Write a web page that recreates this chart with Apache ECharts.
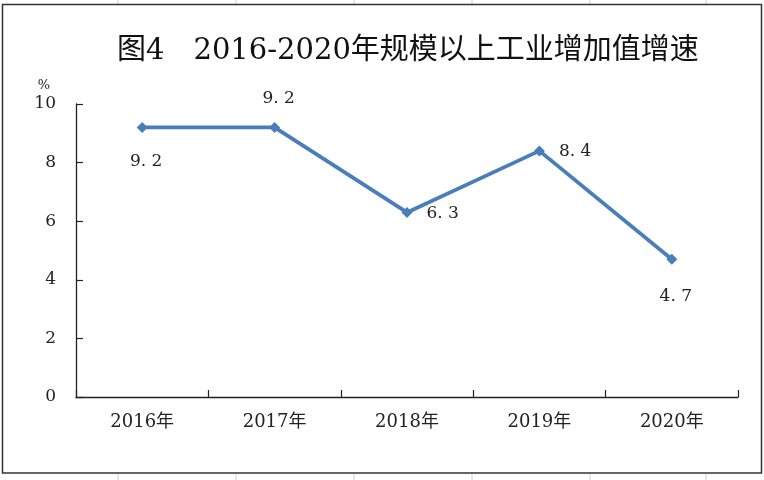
<!DOCTYPE html>
<html>
<head>
<meta charset="utf-8">
<script src="https://cdn.jsdelivr.net/npm/echarts@6/dist/echarts.min.js"></script>
<style>
html, body { margin: 0; padding: 0; background: #fff; }
#main { width: 764px; height: 480px; }
</style>
</head>
<body>
<div id="main"></div>
<script>
// 数据
var years = ['2016年', '2017年', '2018年', '2019年', '2020年'];
var growth = [9.2, 9.2, 6.3, 8.4, 4.7];
var labelPos = ['bottom', 'top', 'right', 'right', 'bottom'];
var yTicks = [0, 2, 4, 6, 8, 10];

var serif = '"DejaVu Serif", "Noto Sans CJK SC", serif';

var myChart = echarts.init(document.getElementById('main'));

// 表格背景的网格线和图表边框
var cellLines = [];
[118, 236, 354, 472, 590, 706].forEach(function (x) {
    cellLines.push({ type: 'line', shape: { x1: x, y1: 0, x2: x, y2: 4 }, style: { stroke: '#d0d0d0', lineWidth: 1 }, silent: true });
    cellLines.push({ type: 'line', shape: { x1: x, y1: 474, x2: x, y2: 480 }, style: { stroke: '#d0d0d0', lineWidth: 1 }, silent: true });
});
cellLines.push({
    type: 'rect',
    shape: { x: 2.5, y: 4.5, width: 759, height: 468.5 },
    style: { fill: 'none', stroke: '#333', lineWidth: 1.5 },
    silent: true
});

// 标签与点的距离
function labelDistance(pos, i) {
    if (pos === 'right') return 14;
    if (pos === 'top') return 15;
    return i === 4 ? 23 : 20;
}

var option = {
    backgroundColor: '#fff',
    title: {
        text: '图4　2016-2020年规模以上工业增加值增速',
        left: 112,
        top: 32,
        textStyle: { fontFamily: serif, fontSize: 29, fontWeight: 'normal', color: '#111' }
    },
    graphic: cellLines,
    grid: { left: 76, right: 26, top: 104, bottom: 83 },
    xAxis: {
        type: 'category',
        data: years,
        boundaryGap: true,
        axisLine: { lineStyle: { color: '#222', width: 1.3 } },
        axisTick: { show: true, inside: true, length: 7, lineStyle: { color: '#222', width: 1.2 } },
        axisLabel: { margin: 16, fontFamily: serif, fontSize: 18, color: '#222' }
    },
    yAxis: {
        type: 'value',
        min: yTicks[0],
        max: yTicks[yTicks.length - 1],
        interval: 2,
        name: '%',
        nameLocation: 'end',
        nameGap: 12,
        nameTextStyle: { fontFamily: serif, fontSize: 13, color: '#222', align: 'right', padding: [0, 26, 0, 0] },
        splitLine: { show: false },
        axisLine: { show: true, lineStyle: { color: '#222', width: 1.3 } },
        axisTick: { show: true, inside: true, length: 7, lineStyle: { color: '#222', width: 1.2 } },
        axisLabel: { margin: 20, fontFamily: serif, fontSize: 17, color: '#222' }
    },
    series: [
        {
            name: '增速',
            type: 'line',
            data: growth.map(function (v, i) {
                var pos = labelPos[i];
                return {
                    value: v,
                    label: {
                        position: pos,
                        distance: labelDistance(pos, i),
                        offset: pos === 'right' ? [0, 1] : [4, 0]
                    }
                };
            }),
            symbol: 'diamond',
            symbolSize: 11,
            lineStyle: { color: '#4a7ebb', width: 3.8 },
            itemStyle: { color: '#4a7ebb' },
            label: {
                show: true,
                fontFamily: serif,
                fontSize: 17,
                color: '#222',
                formatter: function (p) { return p.value.toFixed(1).replace('.', '. '); }
            },
            animation: false
        }
    ]
};

myChart.setOption(option);
</script>
</body>
</html>
